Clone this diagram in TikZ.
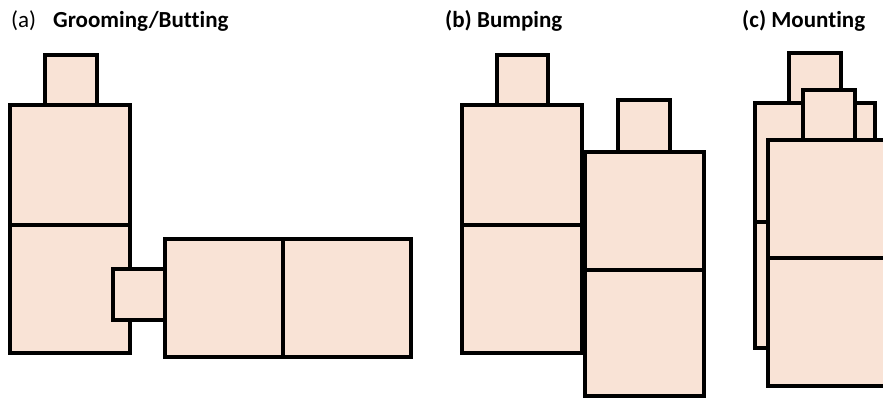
\documentclass[tikz,border=0pt]{standalone}
\usepackage{fontspec}
\setmainfont{Carlito}[Ligatures=NoCommon]
\usepackage{tikz}
\usetikzlibrary{positioning}
\definecolor{skin}{RGB}{249,227,214}

\begin{document}
\begin{tikzpicture}[x=1pt,y=-1pt,
    part/.style={draw=black,line width=3.8pt,line join=miter,fill=skin},
    tag/.style={font=\fontsize{23}{26}\selectfont,anchor=west,inner sep=0pt}]
  \useasboundingbox (0,0) rectangle (883,399);
  % ---- (a) grooming / butting ----
  \node[tag] (taga) at (11,21) {(a)};
  \node[tag,font=\fontsize{23}{26}\selectfont\bfseries] (namea) at (53,21) {Grooming/Butting};
  \draw[part] (45,55) rectangle (97,105);
  \draw[part] (10,105) rectangle (130,225);
  \draw[part] (10,225) rectangle (130,353);
  \draw[part] (113,269) rectangle (165,320);
  \draw[part] (165,239) rectangle (283,357);
  \draw[part] (283,239) rectangle (411,357);
  % ---- (b) bumping ----
  \node[tag,font=\fontsize{23}{26}\selectfont\bfseries] (tagb) at (445,21) {(b) Bumping};
  \draw[part] (497,55) rectangle (548,105);
  \draw[part] (462,105) rectangle (582,225);
  \draw[part] (462,225) rectangle (582,353);
  \draw[part] (618,100) rectangle (670,152);
  \draw[part] (585,152) rectangle (704,270);
  \draw[part] (585,270) rectangle (704,396);
  % ---- (c) mounting ----
  \node[tag,font=\fontsize{23}{26}\selectfont\bfseries] (tagc) at (742,21) {(c) Mounting};
  \draw[part] (789,53) rectangle (841,103);
  \draw[part] (755,103) rectangle (875,222);
  \draw[part] (755,222) rectangle (875,348);
  \draw[part] (803,90) rectangle (855,140);
  \draw[part] (768,140) rectangle (890,258);
  \draw[part] (768,258) rectangle (890,386);
\end{tikzpicture}
\end{document}
